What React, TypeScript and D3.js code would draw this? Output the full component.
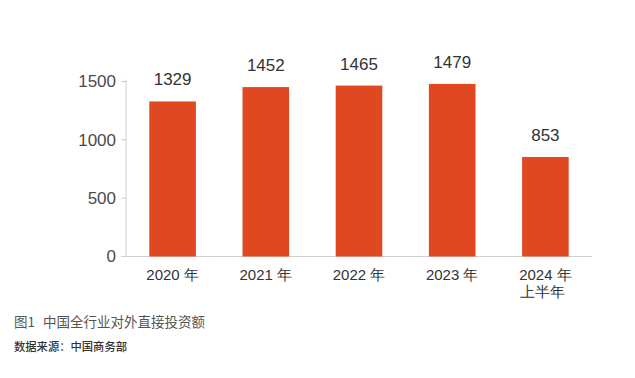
import React from "react";
import * as d3 from "d3";

const categories = ["2020 年", "2021 年", "2022 年", "2023 年", "2024 年|上半年"];
const values = [1329, 1452, 1465, 1479, 853];
const yTicks = [0, 500, 1000, 1500];
const titleNum = "图1";
const title = "中国全行业对外直接投资额";
const source = "数据来源：中国商务部";

export default function App() {
  const W = 635, H = 378;
  const x0 = 126, x1 = 592, yBase = 256.5, yTop = 81.5;
  const x = d3.scaleBand<string>().domain(categories).range([x0, x1]).paddingInner(0.5).paddingOuter(0.25);
  const y = d3.scaleLinear().domain([0, 1500]).range([yBase, yTop]);
  const numFont = "'Liberation Sans', Arial, sans-serif";
  const cjk = "'Noto Sans CJK SC', sans-serif";
  return (
    <svg width={W} height={H} style={{ position: "absolute", left: 0, top: 0, background: "#fff" }}>
      <line x1={x0} x2={x0} y1={yTop - 2} y2={yBase} stroke="#d0d0d0" strokeWidth={1} />
      <line x1={x0} x2={x1} y1={yBase} y2={yBase} stroke="#d0d0d0" strokeWidth={1} />
      {yTicks.map((t) => (
        <g key={t}>
          <line x1={x0 - 5} x2={x0} y1={y(t)} y2={y(t)} stroke="#d0d0d0" />
          <text x={116} y={y(t)} dy="0.35em" textAnchor="end" fontSize={17} fill="#4a4a4a" fontFamily={numFont}>{t}</text>
        </g>
      ))}
      {categories.map((c, i) => {
        const bx = x(c)!;
        const cx = bx + x.bandwidth() / 2;
        const lines = c.split("|");
        return (
          <g key={c}>
            <rect x={bx} y={y(values[i])} width={x.bandwidth()} height={yBase - y(values[i])} fill="#DF4820" />
            <text x={cx} y={y(values[i]) - 16} textAnchor="middle" fontSize={17} fill="#333" fontFamily={numFont}>{values[i]}</text>
            {lines.map((l, j) => (
              <text key={j} x={j === 0 ? cx : cx - 3} y={280 + j * 17} textAnchor="middle" fontSize={15} fill="#333" fontFamily={numFont}>{l}</text>
            ))}
          </g>
        );
      })}
      <text x={14} y={327} fontSize={13.5} fill="#555" fontFamily={cjk}>{titleNum}</text>
      <text x={43} y={327} fontSize={13.5} fill="#555" fontFamily={cjk}>{title}</text>
      <text x={14} y={351} fontSize={11.3} fill="#333" fontWeight={500} fontFamily={cjk}>{source}</text>
    </svg>
  );
}
